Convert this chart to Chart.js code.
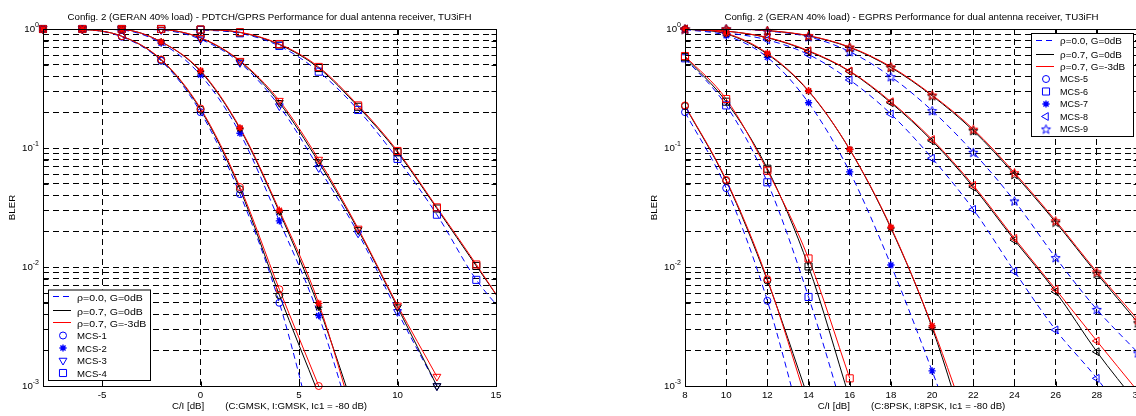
<!DOCTYPE html>
<html>
<head>
<meta charset="utf-8">
<script src="https://cdn.jsdelivr.net/npm/chart.js@4.4.1/dist/chart.umd.min.js"></script>
<style>
  html, body { margin: 0; padding: 0; background: #fff; overflow: hidden; }
  #wrap { position: relative; width: 1136px; height: 416px; overflow: hidden; background: #fff; }
  #gprs { position: absolute; left: 0; top: 0; }
  #egprs { position: absolute; left: 568px; top: 0; }
</style>
</head>
<body>
<div id="wrap">
  <canvas id="gprs" width="568" height="416"></canvas>
  <canvas id="egprs" width="600" height="416"></canvas>
</div>
<script>
// BLER axis (log), shared by both plots
const blerDecades = [0.001, 0.01, 0.1, 1];
const blerExponents = ["-3", "-2", "-1", "0"];
const curveNames = ["ρ=0.0, G=0dB", "ρ=0.7, G=0dB", "ρ=0.7, G=-3dB"];

// ---- left plot: GMSK, MCS-1..4 ----
const gmskTicks = [-5, 0, 5, 10, 15];
const gmskNames = ["MCS-1", "MCS-2", "MCS-3", "MCS-4"];

const mcs1CI = [-8, -6, -4, -2, 0, 2, 4, 6];
const mcs1Rho0 = [1.0, 0.99, 0.86, 0.54, 0.20, 0.041, 0.0050, 0.00028];
const mcs1Rho7 = [1.0, 0.99, 0.87, 0.55, 0.21, 0.045, 0.0058, 0.00085];
const mcs1Rho7G3 = [1.0, 0.99, 0.87, 0.555, 0.215, 0.047, 0.0065, 0.0010];

const mcs2CI = [-8, -6, -4, -2, 0, 2, 4, 6, 8];
const mcs2Rho0 = [1.0, 1.0, 0.98, 0.76, 0.41, 0.133, 0.0244, 0.0039, 0.00033];
const mcs2Rho7 = [1.0, 1.0, 0.99, 0.78, 0.44, 0.145, 0.029, 0.0046, 0.0005];
const mcs2Rho7G3 = [1.0, 1.0, 0.99, 0.78, 0.447, 0.148, 0.030, 0.00495, 0.0004];

const mcs3CI = [-8, -6, -4, -2, 0, 2, 4, 6, 8, 10, 12];
const mcs3Rho0 = [1.0, 1.0, 1.0, 0.98, 0.82, 0.52, 0.225, 0.068, 0.0192, 0.0042, 0.001];
const mcs3Rho7 = [1.0, 1.0, 1.0, 0.99, 0.84, 0.535, 0.24, 0.076, 0.0205, 0.0046, 0.001];
const mcs3Rho7G3 = [1.0, 1.0, 1.0, 0.99, 0.845, 0.542, 0.25, 0.080, 0.0211, 0.00476, 0.0012];

const mcs4CI = [-8, -6, -4, -2, 0, 2, 4, 6, 8, 10, 12, 14, 16];
const mcs4Rho0 = [1.0, 1.0, 1.0, 1.0, 0.98, 0.92, 0.72, 0.438, 0.209, 0.081, 0.0275, 0.0078, 0.0032];
const mcs4Rho7 = [1.0, 1.0, 1.0, 1.0, 0.99, 0.935, 0.74, 0.47, 0.222, 0.092, 0.031, 0.0102, 0.0034];
const mcs4Rho7G3 = [1.0, 1.0, 1.0, 1.0, 0.99, 0.94, 0.748, 0.48, 0.228, 0.0944, 0.0317, 0.0105, 0.0033];

// ---- right plot: 8PSK, MCS-5..9 ----
const pskTicks = [8, 10, 12, 14, 16, 18, 20, 22, 24, 26, 28, 30];
const pskNames = ["MCS-5", "MCS-6", "MCS-7", "MCS-8", "MCS-9"];

const mcs5CI = [8, 10, 12, 14];
const mcs5Rho0 = [0.20, 0.046, 0.0052, 0.00028];
const mcs5Rho7 = [0.225, 0.053, 0.0077, 0.00078];
const mcs5Rho7G3 = [0.228, 0.054, 0.0079, 0.00066];

const mcs6CI = [8, 10, 12, 14, 16];
const mcs6Rho0 = [0.567, 0.228, 0.0515, 0.0056, 0.0004];
const mcs6Rho7 = [0.58, 0.245, 0.067, 0.0101, 0.00078];
const mcs6Rho7G3 = [0.593, 0.258, 0.0645, 0.0118, 0.00116];

const mcs7CI = [8, 10, 12, 14, 16, 18, 20, 22];
const mcs7Rho0 = [0.99, 0.88, 0.578, 0.24, 0.063, 0.0104, 0.00134, 0.00015];
const mcs7Rho7 = [1.0, 0.91, 0.615, 0.30, 0.097, 0.0212, 0.0031, 0.00025];
const mcs7Rho7G3 = [1.0, 0.92, 0.625, 0.303, 0.0975, 0.0216, 0.0032, 0.00035];

const mcs8CI = [8, 10, 12, 14, 16, 18, 20, 22, 24, 26, 28, 30];
const mcs8Rho0 = [1.0, 0.93, 0.81, 0.61, 0.373, 0.193, 0.082, 0.0305, 0.0092, 0.00296, 0.00116, 0.0004];
const mcs8Rho7 = [1.0, 0.96, 0.845, 0.65, 0.44, 0.24, 0.115, 0.047, 0.0168, 0.0062, 0.00194, 0.0007];
const mcs8Rho7G3 = [1.0, 0.96, 0.85, 0.657, 0.444, 0.245, 0.118, 0.0486, 0.0174, 0.0065, 0.00239, 0.0009];

const mcs9CI = [8, 10, 12, 14, 16, 18, 20, 22, 24, 26, 28, 30];
const mcs9Rho0 = [1.0, 1.0, 0.96, 0.86, 0.645, 0.397, 0.206, 0.092, 0.0359, 0.012, 0.0044, 0.0019];
const mcs9Rho7 = [1.0, 1.0, 0.97, 0.875, 0.70, 0.475, 0.275, 0.14, 0.060, 0.0238, 0.0088, 0.0034];
const mcs9Rho7G3 = [1.0, 1.0, 0.97, 0.88, 0.706, 0.482, 0.279, 0.144, 0.062, 0.0245, 0.0091, 0.0036];

// ---- styling ----
const FONT = "'Liberation Sans', Arial, Helvetica, sans-serif";
const FS = 9.7;
const curveColors = ["#0000ff", "#000000", "#ff0000"];
const curveDashes = [[6, 4], [], []];
const gridDash = [6, 4];

// matlab-like pentagram, as an image point style
function pentagram(color) {
    const c = document.createElement("canvas");
    c.width = 11;
    c.height = 11;
    const g = c.getContext("2d");
    g.strokeStyle = color;
    g.lineWidth = 1;
    g.beginPath();
    for (let k = 0; k < 10; k++) {
        const r = k % 2 ? 2.0 : 4.8;
        const ang = -Math.PI / 2 + k * Math.PI / 5;
        const px = 5.5 + r * Math.cos(ang);
        const py = 6 + r * Math.sin(ang);
        if (k) g.lineTo(px, py); else g.moveTo(px, py);
    }
    g.closePath();
    g.stroke();
    return c;
}

const markerShapes = {
    circle: { style: "circle", radius: 3.5, rotation: 0, width: 1 },
    asterisk: { style: "star", radius: 3.6, rotation: 0, width: 1.4 },
    triDown: { style: "triangle", radius: 4.5, rotation: 180, width: 1 },
    square: { style: "rect", radius: 5, rotation: 0, width: 1 },
    triLeft: { style: "triangle", radius: 4.5, rotation: -90, width: 1 },
    pentagram: { style: "pentagram", radius: 5, rotation: 0, width: 1 }
};

function markerStyle(shape, color) {
    return shape.style === "pentagram" ? pentagram(color) : shape.style;
}

function toPoints(xs, ys) {
    return xs.map((x, i) => ({ x: x, y: ys[i] }));
}

// one MCS = three curves (rho 0.0 / rho 0.7 / rho 0.7 G -3dB)
function buildDatasets(groups) {
    const markerSets = [];
    const lineSets = [];
    groups.forEach(gr => {
        [2, 1, 0].forEach(k => {
            const pts = toPoints(gr.ci, gr.curves[k]);
            lineSets.push({
                data: pts,
                borderColor: curveColors[k],
                borderWidth: 1,
                borderDash: curveDashes[k],
                pointRadius: 0,
                cubicInterpolationMode: "monotone",
                fill: false
            });
            markerSets.push({
                data: pts,
                showLine: false,
                clip: false,
                pointStyle: markerStyle(gr.shape, curveColors[k]),
                pointRotation: gr.shape.rotation,
                pointRadius: ctx => (ctx.raw && ctx.raw.y < 0.00099 ? 0 : gr.shape.radius),
                pointBorderColor: curveColors[k],
                pointBackgroundColor: "rgba(0,0,0,0)",
                pointBorderWidth: gr.shape.width
            });
        });
    });
    return markerSets.concat(lineSets);
}

function minorGrid() {
    const vals = [];
    blerDecades.slice(0, -1).forEach(d => {
        for (let m = 1; m < 10; m++) vals.push(d * m);
    });
    vals.push(blerDecades[blerDecades.length - 1]);
    return vals;
}

const framePlugin = {
    id: "frame",
    afterDraw(chart, args, opts) {
        const { ctx, chartArea: a } = chart;
        const x = chart.scales.x;
        const y = chart.scales.y;
        const L = Math.round(a.left) + 0.5, R = Math.round(a.right) + 0.5;
        const T = Math.round(a.top) + 0.5, B = Math.round(a.bottom) + 0.5;
        ctx.save();
        ctx.setLineDash([]);
        ctx.strokeStyle = "#000";
        ctx.lineWidth = 1;
        ctx.strokeRect(L, T, R - L, B - T);

        // inward ticks
        ctx.beginPath();
        y.ticks.forEach(t => {
            const py = Math.round(y.getPixelForValue(t.value)) + 0.5;
            ctx.moveTo(L, py); ctx.lineTo(L + 5, py);
            ctx.moveTo(R, py); ctx.lineTo(R - 5, py);
        });
        x.ticks.forEach(t => {
            const px = Math.round(x.getPixelForValue(t.value)) + 0.5;
            ctx.moveTo(px, B); ctx.lineTo(px, B - 5);
            ctx.moveTo(px, T); ctx.lineTo(px, T + 5);
        });
        ctx.stroke();

        ctx.fillStyle = "#000";
        ctx.textBaseline = "middle";

        // y tick labels 10^n
        blerDecades.forEach((v, i) => {
            const py = y.getPixelForValue(v);
            ctx.font = "7px " + FONT;
            const ew = ctx.measureText(blerExponents[i]).width;
            ctx.textAlign = "left";
            ctx.fillText(blerExponents[i], a.left - 4 - ew, py - 4);
            ctx.font = FS + "px " + FONT;
            ctx.textAlign = "right";
            ctx.fillText("10", a.left - 4 - ew, py + 0.5);
        });

        // y axis title
        ctx.save();
        ctx.translate(a.left - 31, (a.top + a.bottom) / 2);
        ctx.rotate(-Math.PI / 2);
        ctx.textAlign = "center";
        ctx.font = FS + "px " + FONT;
        ctx.fillText("BLER", 0, 0);
        ctx.restore();

        // title
        const cx = (a.left + a.right) / 2;
        ctx.font = FS + "px " + FONT;
        ctx.textAlign = "center";
        ctx.fillText(opts.title, cx, 17);

        // x axis title: "C/I [dB]" + gap + condition text
        const w1 = ctx.measureText(opts.xTitle[0]).width;
        const w2 = ctx.measureText(opts.xTitle[1]).width;
        const gap = 21;
        const x0 = cx - (w1 + gap + w2) / 2;
        ctx.textAlign = "left";
        ctx.fillText(opts.xTitle[0], x0, 406);
        ctx.fillText(opts.xTitle[1], x0 + w1 + gap, 406);

        // legend
        const rows = [7.5, 21.5, 33.5, 46, 58.5, 71, 83.5, 96];
        const n = 3 + opts.names.length;
        const bw = 102, bh = rows[n - 1] + 7;
        const bx = opts.corner === "sw" ? Math.round(a.left) + 5 : Math.round(a.right) - 5 - bw;
        const by = opts.corner === "sw" ? Math.round(a.bottom) - 6 - bh : Math.round(a.top) + 4;
        ctx.fillStyle = "#fff";
        ctx.fillRect(bx, by, bw, bh);
        ctx.strokeStyle = "#000";
        ctx.strokeRect(bx + 0.5, by + 0.5, bw, bh);
        ctx.font = opts.legendSize + "px " + FONT;
        ctx.fillStyle = "#000";
        ctx.textAlign = "left";
        for (let i = 0; i < n; i++) {
            const ry = by + rows[i];
            if (i < 3) {
                ctx.save();
                ctx.strokeStyle = curveColors[i];
                ctx.setLineDash(curveDashes[i]);
                ctx.beginPath();
                ctx.moveTo(bx + 5, Math.round(ry) - 0.5);
                ctx.lineTo(bx + 23, Math.round(ry) - 0.5);
                ctx.stroke();
                ctx.restore();
                // greek-label lines are set a bit wider in the original
                ctx.save();
                ctx.translate(bx + 29, ry + 1);
                ctx.scale(1.1, 1);
                ctx.fillText(curveNames[i], 0, 0);
                ctx.restore();
            } else {
                const shape = opts.shapes[i - 3];
                ctx.save();
                ctx.strokeStyle = curveColors[0];
                ctx.fillStyle = "rgba(0,0,0,0)";
                ctx.lineWidth = shape.width;
                Chart.helpers.drawPoint(ctx, {
                    pointStyle: markerStyle(shape, curveColors[0]),
                    radius: shape.radius,
                    rotation: shape.rotation,
                    borderWidth: shape.width
                }, bx + 15, ry);
                ctx.restore();
                ctx.fillText(opts.names[i - 3], bx + 29, ry + 1);
            }
        }
        ctx.restore();
    }
};

function axisOptions(xMin, xMax, xTicks) {
    return {
        x: {
            type: "linear",
            min: xMin,
            max: xMax,
            afterBuildTicks: s => { s.ticks = xTicks.map(v => ({ value: v })); },
            afterFit: s => { s.height = 30; },
            ticks: {
                font: { family: FONT, size: FS },
                color: "#000",
                padding: 4,
                autoSkip: false,
                maxRotation: 0,
                callback: v => String(v)
            },
            grid: { color: "#000", lineWidth: 1, drawTicks: false, borderDash: gridDash },
            border: { display: false, dash: gridDash }
        },
        y: {
            type: "logarithmic",
            min: blerDecades[0],
            max: blerDecades[blerDecades.length - 1],
            afterBuildTicks: s => { s.ticks = minorGrid().map(v => ({ value: v })); },
            afterFit: s => { s.width = 43; },
            ticks: { display: false, autoSkip: false },
            grid: { color: "#000", lineWidth: 1, drawTicks: false, borderDash: gridDash },
            border: { display: false, dash: gridDash }
        }
    };
}

function makeChart(id, groups, xMin, xMax, xTicks, padding, frame) {
    return new Chart(document.getElementById(id), {
        type: "line",
        data: { datasets: buildDatasets(groups) },
        options: {
            responsive: false,
            animation: false,
            events: [],
            layout: { padding: padding },
            scales: axisOptions(xMin, xMax, xTicks),
            plugins: {
                legend: { display: false },
                tooltip: { enabled: false },
                title: { display: false },
                frame: frame
            }
        },
        plugins: [framePlugin]
    });
}

const gmskShapes = [markerShapes.circle, markerShapes.asterisk, markerShapes.triDown, markerShapes.square];
const pskShapes = [markerShapes.circle, markerShapes.square, markerShapes.asterisk, markerShapes.triLeft, markerShapes.pentagram];

makeChart("gprs", [
    { ci: mcs1CI, curves: [mcs1Rho0, mcs1Rho7, mcs1Rho7G3], shape: gmskShapes[0] },
    { ci: mcs2CI, curves: [mcs2Rho0, mcs2Rho7, mcs2Rho7G3], shape: gmskShapes[1] },
    { ci: mcs3CI, curves: [mcs3Rho0, mcs3Rho7, mcs3Rho7G3], shape: gmskShapes[2] },
    { ci: mcs4CI, curves: [mcs4Rho0, mcs4Rho7, mcs4Rho7G3], shape: gmskShapes[3] }
], -8, 15, gmskTicks, { left: 0, right: 72, top: 29, bottom: 0 }, {
    title: "Config. 2 (GERAN 40% load) - PDTCH/GPRS Performance for dual antenna receiver, TU3iFH",
    xTitle: ["C/I [dB]", "(C:GMSK, I:GMSK, Ic1 = -80 dB)"],
    corner: "sw",
    legendSize: 9.6,
    names: gmskNames,
    shapes: gmskShapes
});

makeChart("egprs", [
    { ci: mcs5CI, curves: [mcs5Rho0, mcs5Rho7, mcs5Rho7G3], shape: pskShapes[0] },
    { ci: mcs6CI, curves: [mcs6Rho0, mcs6Rho7, mcs6Rho7G3], shape: pskShapes[1] },
    { ci: mcs7CI, curves: [mcs7Rho0, mcs7Rho7, mcs7Rho7G3], shape: pskShapes[2] },
    { ci: mcs8CI, curves: [mcs8Rho0, mcs8Rho7, mcs8Rho7G3], shape: pskShapes[3] },
    { ci: mcs9CI, curves: [mcs9Rho0, mcs9Rho7, mcs9Rho7G3], shape: pskShapes[4] }
], 8, 30, pskTicks, { left: 74, right: 30, top: 29, bottom: 0 }, {
    title: "Config. 2 (GERAN 40% load) - EGPRS Performance for dual antenna receiver, TU3iFH",
    xTitle: ["C/I [dB]", "(C:8PSK, I:8PSK, Ic1 = -80 dB)"],
    corner: "ne",
    legendSize: 9,
    names: pskNames,
    shapes: pskShapes
});
</script>
</body>
</html>
